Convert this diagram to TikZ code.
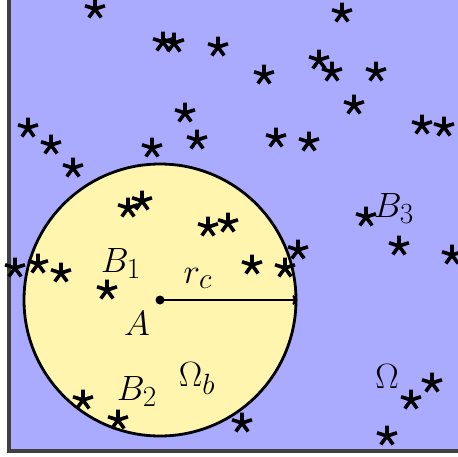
\documentclass[tikz,border=0pt]{standalone}
\usepackage{graphicx}
\usetikzlibrary{arrows.meta}
\definecolor{domblue}{RGB}{170,170,255}
\definecolor{ballyellow}{RGB}{255,245,175}
\definecolor{framegray}{RGB}{64,64,64}
\newcommand{\biglbl}[1]{\scalebox{1.41}{$#1$}}

\begin{document}
\begin{tikzpicture}[x=1pt, y=-1pt,
    lbl/.style={inner sep=0pt, anchor=base, font=\Huge},
    starmk/.pic={\draw[line width=3.6pt] \foreach \a in {90,162,234,306,18} {(0,0) -- (\a:10.5pt)};}]
    \useasboundingbox (0,0) rectangle (458,456);
    \clip (0,0) rectangle (458,456);
    % domain
    \fill[domblue] (9,-20) rectangle (480,451);
    \draw[framegray, line width=3.5pt] (9,-20) -- (9,451) -- (480,451);
    % ball
    \node[circle, draw, fill=ballyellow, line width=2.8pt, minimum size=272pt, inner sep=0pt] (ball) at (160,300) {};
    \fill (ball.center) circle[radius=4.5pt];
    \draw[line width=2.2pt, -{To[length=5pt, width=10pt]}] (ball.center) -- (ball.east);
    % points
    \foreach \x/\y in {95/9, 163/42, 174/43, 218/47, 185/113, 197/140, 28/128, 51/145,
        73/168, 152/148, 128/208, 142/201, 208/227, 228/223, 342/13, 264/75, 319/60,
        332/72, 376/72, 354/105, 276/138, 309/142, 422/125, 444/127, 366/217,
        15/268, 38/264, 61/273, 107/290, 83/400, 118/420, 252/265, 285/268, 298/250,
        399/246, 452/255, 432/383, 411/400, 387/436, 242/423}
        \pic at (\x,\y) {starmk};
    % labels
    \node[lbl] (b1) at (121,272) {\biglbl{B_1}};
    \node[lbl] (b2) at (137,400) {\biglbl{B_2}};
    \node[lbl] (b3) at (394,217) {\biglbl{B_3}};
    \node[lbl] (ptA) at (137,335) {\biglbl{A}};
    \node[lbl] (rc) at (198,283) {\biglbl{r_c}};
    \node[lbl] (omegab) at (197,386) {\biglbl{\Omega_b}};
    \node[lbl] (omega) at (387,388) {\biglbl{\Omega}};
\end{tikzpicture}
\end{document}
